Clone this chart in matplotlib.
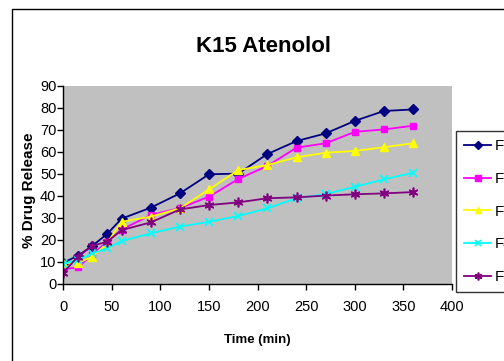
import matplotlib
matplotlib.use("Agg")
import matplotlib.pyplot as plt
from matplotlib.patches import Rectangle
from matplotlib import font_manager

time_min = [0, 15, 30, 45, 60, 90, 120, 150, 180, 210, 240, 270, 300, 330, 360]
f1 = [9.5, 12.6, 17.2, 22.5, 29.5, 34.5, 41.0, 49.7, 50.0, 58.9, 64.8, 68.3, 74.0, 78.5, 79.2]
f2 = [6.5, 7.3, 13.3, 19.0, 24.5, 31.2, 34.3, 39.5, 47.5, 53.5, 61.8, 63.8, 69.0, 70.1, 71.8]
f3 = [9.2, 9.4, 12.2, 18.3, 28.1, 30.4, 34.2, 42.8, 51.6, 53.9, 57.4, 59.5, 60.3, 62.0, 63.8]
f4 = [8.9, 10.7, 13.7, 16.0, 19.3, 22.8, 25.9, 28.1, 30.7, 34.2, 38.8, 40.7, 44.0, 47.4, 50.4]
f5 = [4.9, 12.2, 17.2, 19.0, 24.3, 27.8, 33.7, 35.7, 36.9, 38.8, 39.2, 40.0, 40.6, 41.0, 41.6]
series_names = ["F1", "F2", "F3", "F4", "F5"]
x_ticks = [0, 50, 100, 150, 200, 250, 300, 350, 400]
y_ticks = [0, 10, 20, 30, 40, 50, 60, 70, 80, 90]

names = {f.name for f in font_manager.fontManager.ttflist}
narrow = "Liberation Sans Narrow" if "Liberation Sans Narrow" in names else "Liberation Sans"
plt.rcParams['font.family'] = ["Liberation Sans", "DejaVu Sans"]

W, H = 504, 361
fig = plt.figure(figsize=(W / 100, H / 100), dpi=100)
fig.patch.set_facecolor("white")

# outer chart frame (extends beyond right/bottom edges)
fig.patches.append(Rectangle((12 / W, -0.1), 1.2, 1 - 9 / H + 0.1, transform=fig.transFigure,
                             fill=False, edgecolor="black", linewidth=1.0))

ax = fig.add_axes([63.3 / W, 1 - 283.5 / H, (452 - 63.3) / W, (283.5 - 85.7) / H])
ax.set_facecolor("#C0C0C0")

styles = [
    dict(color="#000080", marker="D", ms=5),
    dict(color="#FF00FF", marker="s", ms=5),
    dict(color="#FFFF00", marker="^", ms=6),
    dict(color="#00FFFF", marker="x", ms=6, mew=1.2),
    dict(color="#800080", marker=(6, 2, 0), ms=7, mew=1.2),
]
for data, name, st in zip([f1, f2, f3, f4, f5], series_names, styles):
    ax.plot(time_min, data, color=st["color"], marker=st["marker"], markersize=st["ms"],
            markeredgewidth=st.get("mew", 1.0), markerfacecolor=st["color"],
            markeredgecolor=st["color"], linewidth=1.3, label=name)

ax.set_xlim(0, 400)
ax.set_ylim(0, 90)
ax.set_xticks(x_ticks)
ax.set_yticks(y_ticks)
for s in ["top", "right"]:
    ax.spines[s].set_visible(False)
for s in ["left", "bottom"]:
    ax.spines[s].set_color("black")
    ax.spines[s].set_linewidth(1.0)
ax.tick_params(direction="out", length=4, width=1, colors="black")
for lab in ax.get_xticklabels() + ax.get_yticklabels():
    lab.set_fontfamily([narrow, "DejaVu Sans"])
    lab.set_fontsize(10.5)
ax.tick_params(axis="x", pad=8)
ax.tick_params(axis="y", pad=1)

fig.text(264 / W, 1 - 46 / H, "K15 Atenolol", ha="center", va="center",
         fontsize=16, fontweight="bold")
fig.text(257 / W, 1 - 340 / H, "Time (min)", ha="center", va="center",
         fontsize=9.5, fontweight="bold", family=[narrow, "DejaVu Sans"])
fig.text(29 / W, 1 - 190 / H, "% Drug Release", ha="center", va="center",
         rotation=90, fontsize=11, fontweight="bold")

leg = ax.legend(loc="upper left", bbox_to_anchor=(456 / W, 1 - 131 / H),
                bbox_transform=fig.transFigure, frameon=True, fancybox=False,
                edgecolor="black", facecolor="white", fontsize=11,
                handlelength=1.75, handletextpad=0.25, labelspacing=1.22,
                borderpad=0.55, borderaxespad=0, markerscale=0.8)
leg.get_frame().set_linewidth(1.0)

fig.savefig("out.png", dpi=100, facecolor="white")
